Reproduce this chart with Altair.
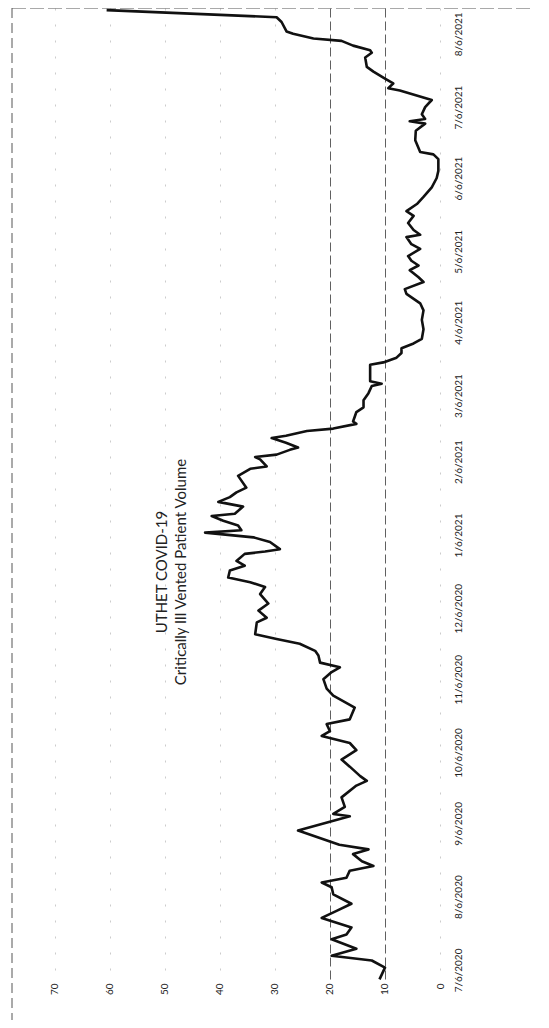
import altair as alt
import pandas as pd
from datetime import datetime, timezone

# ---- data ----
dates = [
    "2020-07-02", "2020-07-07", "2020-07-10", "2020-07-12", "2020-07-15", "2020-07-19",
    "2020-07-21", "2020-07-24", "2020-07-28", "2020-07-31", "2020-08-03", "2020-08-07",
    "2020-08-10", "2020-08-12", "2020-08-14", "2020-08-17", "2020-08-19", "2020-08-21",
    "2020-08-24", "2020-08-26", "2020-08-28", "2020-09-03", "2020-09-09", "2020-09-10",
    "2020-09-13", "2020-09-17", "2020-09-22", "2020-09-24", "2020-09-26", "2020-09-30",
    "2020-10-03", "2020-10-07", "2020-10-10", "2020-10-13", "2020-10-15", "2020-10-18",
    "2020-10-20", "2020-10-25", "2020-10-30", "2020-11-02", "2020-11-06", "2020-11-09",
    "2020-11-11", "2020-11-13", "2020-11-16", "2020-11-18", "2020-11-21", "2020-11-23",
    "2020-11-25", "2020-11-30", "2020-12-02", "2020-12-05", "2020-12-08", "2020-12-12",
    "2020-12-15", "2020-12-17", "2020-12-19", "2020-12-22", "2020-12-24", "2020-12-26",
    "2020-12-29", "2020-12-30", "2020-12-31", "2021-01-03", "2021-01-05", "2021-01-07",
    "2021-01-08", "2021-01-10", "2021-01-12", "2021-01-14", "2021-01-15", "2021-01-18",
    "2021-01-20", "2021-01-22", "2021-01-24", "2021-01-26", "2021-01-31", "2021-02-03",
    "2021-02-04", "2021-02-07", "2021-02-08", "2021-02-09", "2021-02-11", "2021-02-12",
    "2021-02-14", "2021-02-16", "2021-02-17", "2021-02-19", "2021-02-20", "2021-02-22",
    "2021-02-23", "2021-02-27", "2021-03-01", "2021-03-04", "2021-03-07", "2021-03-10",
    "2021-03-11", "2021-03-12", "2021-03-17", "2021-03-19", "2021-03-20", "2021-03-22",
    "2021-03-24", "2021-03-26", "2021-03-28", "2021-03-30", "2021-04-03", "2021-04-07",
    "2021-04-11", "2021-04-14", "2021-04-18", "2021-04-20", "2021-04-23", "2021-04-25",
    "2021-04-28", "2021-04-30", "2021-05-02", "2021-05-04", "2021-05-07", "2021-05-09",
    "2021-05-12", "2021-05-13", "2021-05-15", "2021-05-18", "2021-05-21", "2021-05-23",
    "2021-05-26", "2021-05-29", "2021-06-02", "2021-06-06", "2021-06-09", "2021-06-14",
    "2021-06-16", "2021-06-17", "2021-06-22", "2021-06-26", "2021-06-29", "2021-06-30",
    "2021-07-01", "2021-07-03", "2021-07-06", "2021-07-09", "2021-07-11", "2021-07-13",
    "2021-07-14", "2021-07-16", "2021-07-18", "2021-07-21", "2021-07-23", "2021-07-27",
    "2021-07-29", "2021-07-30", "2021-08-01", "2021-08-03", "2021-08-04", "2021-08-06",
    "2021-08-07", "2021-08-11", "2021-08-13", "2021-08-16",
]
values = [
    11.0, 10.0, 12.4, 19.7, 15.2, 19.7,
    17.0, 16.1, 21.5, 18.8, 16.1, 19.4,
    19.7, 21.5, 17.0, 16.4, 12.1, 14.2,
    15.8, 13.0, 18.3, 25.8, 16.4, 19.4,
    17.3, 17.9, 15.2, 13.3, 14.5, 16.4,
    17.9, 15.2, 16.4, 21.5, 20.0, 20.6,
    16.4, 15.5, 19.4, 20.6, 21.2, 19.7,
    18.2, 21.8, 22.1, 22.7, 25.5, 29.7,
    33.6, 33.3, 31.5, 33.0, 31.2, 32.7,
    31.8, 34.5, 38.5, 38.2, 35.5, 37.0,
    35.5, 31.8, 29.1, 30.9, 33.9, 42.7,
    36.1, 36.7, 39.4, 41.5, 37.3, 35.8,
    40.3, 38.2, 37.0, 35.2, 36.7, 34.5,
    31.5, 32.7, 33.6, 29.7, 27.3, 25.8,
    28.0, 30.6, 28.0, 24.2, 19.4, 15.2,
    15.8, 15.2, 13.9, 13.9, 13.0, 12.4,
    10.6, 12.7, 12.7, 12.7, 10.3, 7.9,
    7.0, 7.0, 4.8, 3.3, 3.0, 3.3,
    3.0, 3.6, 6.1, 6.4, 3.0, 3.9,
    5.5, 3.9, 5.2, 5.8, 3.6, 5.2,
    6.1, 3.6, 4.8, 5.8, 4.8, 6.1,
    4.2, 3.0, 1.5, 0.6, 0.3, 0.3,
    1.2, 3.6, 4.5, 4.4, 2.7, 5.5,
    2.7, 3.3, 2.7, 1.5, 4.4, 7.3,
    9.4, 8.5, 10.0, 12.1, 13.3, 13.6,
    12.4, 12.7, 15.8, 17.9, 23.0, 26.7,
    27.9, 28.8, 29.7, 60.6,
]
value_ticks = [0, 10, 20, 30, 40, 50, 60, 70]
date_ticks = [
    "2020-07-06", "2020-08-06", "2020-09-06", "2020-10-06", "2020-11-06", "2020-12-06",
    "2021-01-06", "2021-02-06", "2021-03-06", "2021-04-06", "2021-05-06", "2021-06-06",
    "2021-07-06", "2021-08-06",
]
title_lines = ["UTHET COVID-19", "Critically Ill Vented Patient Volume"]


def ms(s):
    return int(datetime.fromisoformat(s).replace(tzinfo=timezone.utc).timestamp() * 1000)


date_domain = [ms("2020-07-01T18:00:00"), ms("2021-08-16T22:00:00")]
value_domain = [0, 77.8]

W, H = 428, 972
FONT = "Lato"

df = pd.DataFrame({"date": dates, "value": values})

grid_strong = "datum.value == 10 || datum.value == 20"

line = alt.Chart(df).mark_line(color="#111111", strokeWidth=2.6, strokeJoin="round").encode(
    x=alt.X(
        "value:Q",
        scale=alt.Scale(domain=value_domain, reverse=True, nice=False, zero=False),
        axis=alt.Axis(
            orient="bottom",
            values=value_ticks,
            labelAngle=270,
            labelAlign="right",
            labelBaseline="middle",
            labelPadding=3,
            labelFont=FONT,
            labelFontSize=10,
            labelColor="#222222",
            ticks=False,
            domain=False,
            grid=True,
            gridColor={"condition": {"test": grid_strong, "value": "#444444"}, "value": "#9a9a9a"},
            gridOpacity={"condition": {"test": grid_strong, "value": 0.85}, "value": 0.5},
            gridDash={"condition": {"test": grid_strong, "value": [9, 4]}, "value": [2, 14]},
            gridWidth=1,
            title=None,
        ),
    ),
    y=alt.Y(
        "date:T",
        scale=alt.Scale(type="utc", domain=date_domain, nice=False),
        axis=alt.Axis(
            orient="right",
            values=[ms(t) for t in date_ticks],
            format="%-m/%-d/%Y",
            labelAngle=270,
            labelAlign="center",
            labelBaseline="top",
            labelPadding=13,
            labelFont=FONT,
            labelFontSize=10,
            labelColor="#222222",
            ticks=False,
            domain=False,
            grid=False,
            title=None,
        ),
    ),
    order=alt.Order("date:T"),
)

left_border = alt.Chart(pd.DataFrame({"k": [0]})).mark_rule(
    color="#555555", strokeDash=[10, 5], strokeWidth=1
).encode(x=alt.value(0), y=alt.value(0), y2=alt.value(H + 40))

top_border = alt.Chart(pd.DataFrame({"k": [0]})).mark_rule(
    color="#555555", strokeDash=[14, 4], strokeWidth=1
).encode(x=alt.value(0), x2=alt.value(W + 100), y=alt.value(0))

title = alt.Chart(pd.DataFrame({"t": ["\n".join(title_lines)]})).mark_text(
    angle=270, align="center", baseline="middle", lineBreak="\n",
    font=FONT, fontSize=15, lineHeight=19, color="#222222",
).encode(text="t:N", x=alt.value(150), y=alt.value(564))

chart = alt.layer(left_border, top_border, line, title).properties(
    width=W,
    height=H,
    padding={"left": 4, "top": 0, "right": 90, "bottom": 40},
    autosize=alt.AutoSizeParams(type="none"),
).configure_view(stroke=None)

chart.save("out.html", embed_options={"renderer": "svg", "actions": False})
